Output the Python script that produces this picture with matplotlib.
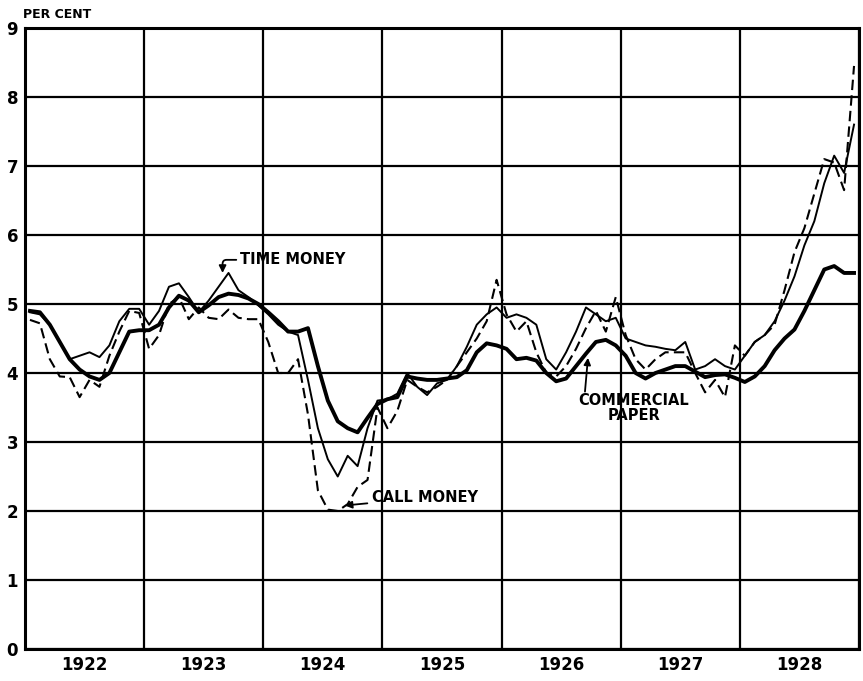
import matplotlib
matplotlib.use("Agg")
import matplotlib.pyplot as plt

# monthly averages, Jan 1922 .. Dec 1928 (per cent)
years = ["1922", "1923", "1924", "1925", "1926", "1927", "1928"]

commercial_paper = [
    4.90, 4.88, 4.70, 4.45, 4.20, 4.05, 3.95, 3.90, 4.00, 4.30, 4.60, 4.62,
    4.62, 4.70, 4.95, 5.12, 5.05, 4.88, 4.98, 5.10, 5.15, 5.13, 5.08, 5.00,
    4.88, 4.75, 4.60, 4.60, 4.65, 4.10, 3.60, 3.30, 3.20, 3.14, 3.35, 3.55,
    3.62, 3.65, 3.95, 3.92, 3.90, 3.90, 3.92, 3.94, 4.04, 4.30, 4.43, 4.40,
    4.35, 4.20, 4.22, 4.18, 4.00, 3.88, 3.92, 4.10, 4.28, 4.45, 4.48, 4.40,
    4.25, 4.00, 3.92, 4.00, 4.05, 4.10, 4.10, 4.02, 3.94, 3.97, 3.98, 3.93,
    3.87, 3.95, 4.10, 4.33, 4.50, 4.63, 4.90, 5.20, 5.50, 5.55, 5.45, 5.45,
]

time_money = [
    4.88, 4.85, 4.70, 4.45, 4.20, 4.25, 4.30, 4.23, 4.40, 4.75, 4.93, 4.93,
    4.70, 4.90, 5.25, 5.30, 5.10, 4.88, 5.05, 5.25, 5.45, 5.20, 5.10, 4.98,
    4.85, 4.70, 4.60, 4.55, 3.90, 3.20, 2.75, 2.50, 2.80, 2.65, 3.20, 3.60,
    3.62, 3.70, 4.00, 3.80, 3.68, 3.85, 3.90, 4.10, 4.38, 4.70, 4.85, 4.95,
    4.80, 4.85, 4.80, 4.70, 4.20, 4.05, 4.30, 4.60, 4.95, 4.85, 4.75, 4.80,
    4.50, 4.45, 4.40, 4.38, 4.35, 4.33, 4.45, 4.05, 4.10, 4.20, 4.10, 4.05,
    4.25, 4.45, 4.55, 4.75, 5.05, 5.40, 5.85, 6.20, 6.75, 7.15, 6.90, 7.60,
]

call_money = [
    4.77, 4.72, 4.20, 3.95, 3.94, 3.65, 3.90, 3.80, 4.25, 4.60, 4.90, 4.87,
    4.35, 4.55, 5.00, 5.10, 4.78, 4.95, 4.80, 4.78, 4.92, 4.80, 4.78, 4.78,
    4.45, 4.00, 4.00, 4.20, 3.40, 2.30, 2.02, 2.00, 2.10, 2.35, 2.45, 3.50,
    3.20, 3.45, 3.90, 3.80, 3.72, 3.80, 3.90, 4.10, 4.30, 4.50, 4.75, 5.35,
    4.85, 4.60, 4.75, 4.30, 4.00, 3.95, 4.10, 4.35, 4.65, 4.90, 4.60, 5.10,
    4.55, 4.20, 4.05, 4.20, 4.30, 4.30, 4.30, 4.00, 3.72, 3.90, 3.65, 4.40,
    4.25, 4.45, 4.55, 4.70, 5.20, 5.75, 6.10, 6.60, 7.10, 7.05, 6.65, 8.45,
]

months = [i + 0.5 for i in range(len(commercial_paper))]

fig = plt.figure(figsize=(8.63, 6.81), dpi=100)
ax = fig.add_axes([25 / 863, 32 / 681, 834 / 863, 621 / 681])

ax.plot(months, commercial_paper, color="black", lw=2.8, solid_joinstyle="round")
ax.plot(months, time_money, color="black", lw=1.4)
ax.plot(months, call_money, color="black", lw=1.5, dashes=(5, 2.5))

ax.set_xlim(0, 84)
ax.set_ylim(0, 9)
ax.set_xticks(range(0, 85, 12))
ax.set_xticklabels([])
ax.set_xticks([6 + 12 * k for k in range(7)], minor=True)
ax.set_xticklabels(years, minor=True, fontsize=12, fontweight="bold")
ax.set_yticks(range(0, 10))
ax.set_yticklabels([str(v) for v in range(10)], fontsize=12, fontweight="bold")
ax.tick_params(which="both", length=0)
ax.tick_params(axis="y", pad=5)
ax.tick_params(axis="x", which="minor", pad=5)
ax.grid(True, color="black", lw=1.6)
ax.set_axisbelow(True)
for sp in ax.spines.values():
    sp.set_linewidth(2.2)

fig.text(23 / 863, 1 - 14 / 681, "PER CENT", fontsize=9, fontweight="bold",
         va="center", ha="left")

ax.annotate("TIME MONEY", xy=(19.9, 5.45), xytext=(21.7, 5.64),
            fontsize=10.5, fontweight="bold", va="center", ha="left",
            arrowprops=dict(arrowstyle="-|>", color="black", lw=1.3,
                            connectionstyle="angle,angleA=0,angleB=90,rad=4",
                            shrinkA=1, shrinkB=0))
ax.annotate("CALL MONEY", xy=(32.2, 2.08), xytext=(34.9, 2.19),
            fontsize=10.5, fontweight="bold", va="center", ha="left",
            arrowprops=dict(arrowstyle="-|>", color="black", lw=1.3,
                            shrinkA=1, shrinkB=0))
ax.text(61.3, 3.49, "COMMERCIAL\nPAPER", fontsize=10.5, fontweight="bold",
        va="center", ha="center", linespacing=0.95)
ax.annotate("", xy=(56.7, 4.22), xytext=(56.4, 3.73),
            arrowprops=dict(arrowstyle="-|>", color="black", lw=1.3,
                            shrinkA=0, shrinkB=0))

fig.savefig("out.png", dpi=100)
